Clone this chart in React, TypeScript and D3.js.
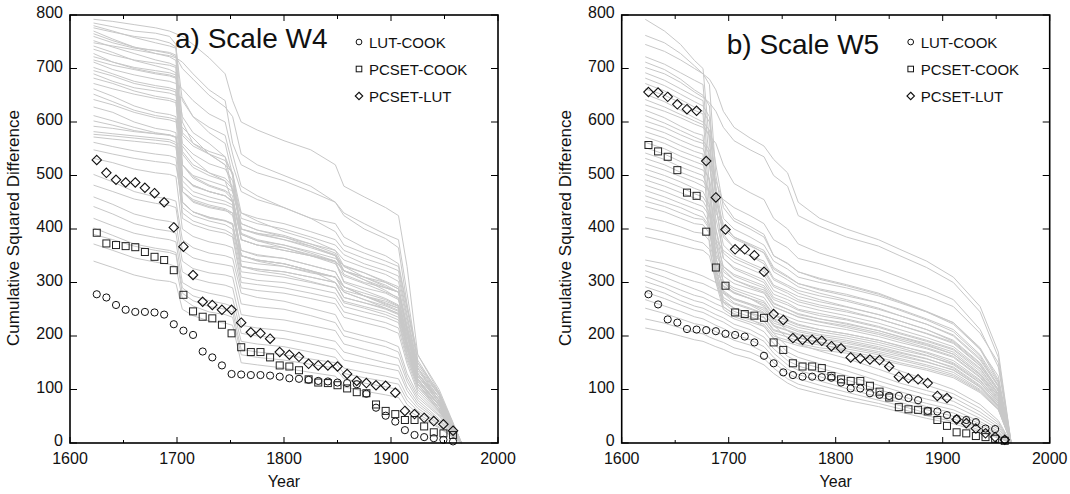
import React from 'react';
import * as d3 from 'd3';

// ---------- data ----------
const MARK_YEARS = [1625, 1634, 1643, 1652, 1661, 1670, 1679, 1688, 1697, 1706, 1715, 1724, 1733, 1742, 1751, 1760, 1769, 1778, 1787, 1796, 1805, 1814, 1823, 1832, 1841, 1850, 1859, 1868, 1877, 1886, 1895, 1904, 1913, 1922, 1931, 1940, 1949, 1958];

const A_LUT_COOK = [278, 272, 258, 249, 245, 245, 244, 240, 222, 210, 202, 171, 160, 145, 129, 128, 127, 127, 126, 124, 121, 120, 118, 116, 115, 113, 112, 110, 92, 66, 51, 40, 24, 15, 11, 9, 6, 3];
const A_PCSET_COOK = [393, 373, 370, 368, 366, 357, 348, 342, 323, 277, 246, 236, 233, 221, 205, 179, 170, 170, 160, 145, 143, 136, 119, 113, 112, 108, 102, 95, 93, 72, 60, 54, 43, 43, 31, 20, 18, 15];
const A_PCSET_LUT = [529, 505, 492, 487, 487, 477, 467, 450, 403, 367, 314, 264, 258, 249, 249, 225, 207, 205, 195, 170, 165, 161, 148, 145, 145, 143, 129, 116, 112, 108, 107, 94, 60, 54, 47, 41, 35, 23];

const B_LUT_COOK = [278, 259, 231, 225, 213, 212, 211, 209, 204, 202, 199, 188, 163, 149, 132, 127, 124, 124, 123, 122, 113, 102, 102, 93, 90, 88, 88, 84, 80, 60, 59, 52, 45, 43, 39, 27, 26, 6];
const B_PCSET_COOK = [557, 545, 535, 510, 468, 462, 395, 328, 294, 244, 241, 238, 234, 188, 174, 149, 143, 143, 140, 125, 119, 116, 116, 107, 96, 85, 67, 63, 62, 59, 43, 32, 20, 18, 13, 11, 8, 4];
const B_PCSET_LUT = [656, 655, 647, 633, 624, 621, 527, 459, 399, 362, 362, 351, 320, 241, 230, 196, 193, 193, 191, 181, 177, 160, 158, 156, 155, 143, 124, 121, 119, 112, 88, 84, 44, 37, 27, 18, 11, 6];

// grey ensemble curves, values at the knot years
const A_KNOTS = [1622, 1640, 1660, 1680, 1693, 1699, 1705, 1715, 1730, 1745, 1752, 1760, 1775, 1800, 1825, 1848, 1856, 1875, 1895, 1907, 1915, 1925, 1945, 1966];
const A_LINES = [
  [792, 788, 782, 776, 770, 765, 760, 745, 720, 690, 640, 600, 585, 565, 548, 520, 480, 460, 440, 425, 330, 165, 95, 0],
  [785, 778, 770, 766, 760, 745, 600, 560, 540, 520, 505, 430, 415, 395, 380, 360, 330, 318, 300, 288, 220, 140, 78, 0],
  [780, 770, 758, 748, 742, 738, 640, 610, 590, 575, 520, 470, 455, 440, 420, 395, 370, 355, 340, 330, 250, 155, 92, 0],
  [776, 768, 760, 755, 748, 740, 520, 500, 490, 480, 470, 410, 398, 388, 372, 355, 322, 305, 285, 270, 190, 120, 70, 0],
  [770, 755, 740, 733, 728, 722, 700, 680, 650, 628, 610, 540, 520, 500, 480, 450, 430, 410, 390, 380, 280, 150, 90, 0],
  [765, 752, 740, 728, 722, 715, 580, 560, 545, 535, 500, 380, 370, 360, 350, 338, 300, 285, 270, 258, 200, 125, 75, 0],
  [760, 748, 738, 734, 730, 725, 545, 520, 505, 495, 480, 400, 392, 380, 368, 350, 315, 300, 290, 282, 210, 130, 80, 0],
  [752, 740, 728, 716, 710, 705, 500, 480, 470, 462, 450, 350, 342, 335, 322, 300, 282, 268, 252, 242, 180, 115, 65, 0],
  [748, 742, 735, 728, 724, 720, 712, 690, 660, 640, 560, 520, 505, 490, 470, 450, 425, 400, 382, 365, 260, 150, 95, 0],
  [742, 730, 715, 705, 698, 692, 560, 540, 522, 512, 490, 392, 380, 370, 358, 345, 332, 318, 302, 292, 215, 135, 85, 0],
  [736, 725, 716, 710, 706, 702, 470, 455, 445, 438, 430, 360, 352, 345, 332, 320, 292, 275, 258, 248, 175, 110, 60, 0],
  [728, 712, 700, 692, 688, 684, 610, 580, 560, 535, 470, 430, 420, 410, 395, 380, 360, 345, 332, 322, 240, 145, 90, 0],
  [722, 712, 702, 696, 692, 688, 575, 555, 540, 528, 505, 400, 390, 380, 365, 350, 322, 310, 300, 288, 212, 130, 85, 0],
  [716, 706, 698, 690, 686, 682, 500, 482, 470, 462, 452, 330, 325, 320, 310, 300, 272, 262, 252, 242, 180, 110, 65, 0],
  [712, 698, 688, 680, 676, 672, 662, 640, 615, 600, 540, 480, 462, 440, 420, 410, 385, 365, 350, 335, 255, 165, 100, 0],
  [702, 690, 676, 668, 664, 660, 450, 432, 422, 415, 408, 340, 335, 330, 320, 310, 282, 268, 256, 246, 182, 115, 70, 0],
  [696, 686, 672, 664, 660, 656, 520, 498, 482, 472, 462, 380, 370, 360, 350, 340, 302, 290, 280, 268, 200, 125, 80, 0],
  [690, 676, 664, 658, 654, 650, 645, 610, 580, 560, 500, 420, 410, 400, 385, 370, 352, 335, 322, 312, 235, 140, 90, 0],
  [682, 672, 658, 648, 644, 640, 490, 470, 460, 452, 445, 350, 342, 335, 322, 310, 292, 275, 262, 252, 188, 120, 70, 0],
  [672, 662, 652, 644, 640, 636, 540, 515, 500, 490, 475, 400, 392, 385, 372, 360, 342, 328, 315, 302, 228, 140, 85, 0],
  [662, 648, 630, 618, 614, 610, 520, 495, 480, 470, 455, 390, 378, 370, 355, 340, 322, 305, 290, 282, 210, 130, 80, 0],
  [652, 638, 622, 612, 608, 605, 470, 452, 442, 436, 425, 350, 342, 335, 322, 310, 292, 275, 260, 252, 185, 115, 70, 0],
  [642, 632, 618, 608, 604, 600, 590, 570, 540, 520, 470, 410, 398, 385, 368, 352, 330, 310, 292, 282, 210, 130, 75, 0],
  [628, 618, 600, 588, 584, 580, 450, 432, 422, 416, 410, 330, 325, 320, 310, 300, 272, 262, 250, 240, 175, 110, 65, 0],
  [612, 602, 590, 580, 576, 572, 480, 462, 452, 446, 440, 360, 350, 345, 332, 320, 292, 280, 268, 256, 190, 120, 72, 0],
  [602, 594, 584, 578, 575, 571, 500, 482, 470, 462, 452, 380, 370, 365, 352, 340, 322, 310, 295, 282, 210, 130, 80, 0],
  [592, 588, 582, 578, 576, 572, 440, 425, 415, 408, 400, 320, 316, 310, 300, 290, 262, 252, 240, 230, 165, 105, 62, 0],
  [582, 578, 574, 570, 567, 562, 555, 530, 505, 490, 450, 390, 378, 365, 350, 335, 312, 298, 282, 272, 200, 125, 75, 0],
  [577, 574, 570, 566, 563, 558, 420, 408, 398, 392, 385, 300, 296, 290, 280, 270, 245, 235, 225, 215, 155, 100, 58, 0],
  [572, 568, 564, 560, 557, 553, 470, 450, 440, 434, 430, 350, 340, 330, 318, 310, 285, 275, 265, 255, 185, 118, 70, 0],
  [562, 554, 546, 540, 537, 533, 430, 415, 405, 398, 390, 310, 304, 300, 290, 280, 255, 245, 235, 225, 160, 105, 60, 0],
  [548, 540, 532, 526, 523, 519, 450, 432, 420, 415, 410, 330, 322, 315, 302, 290, 265, 255, 245, 235, 168, 110, 65, 0],
  [532, 524, 512, 505, 502, 498, 400, 386, 376, 370, 365, 290, 285, 280, 270, 260, 235, 225, 215, 205, 148, 95, 55, 0],
  [502, 488, 470, 460, 456, 452, 380, 365, 355, 350, 345, 280, 272, 265, 252, 240, 210, 200, 190, 180, 130, 90, 52, 0],
  [482, 470, 456, 448, 444, 440, 360, 346, 338, 333, 330, 260, 255, 250, 238, 225, 200, 190, 180, 170, 122, 85, 50, 0],
  [460, 446, 428, 418, 414, 410, 340, 326, 318, 314, 310, 240, 235, 230, 220, 210, 185, 175, 165, 158, 115, 80, 45, 0],
  [442, 428, 410, 400, 396, 392, 320, 308, 300, 295, 290, 220, 215, 210, 200, 190, 170, 160, 150, 145, 105, 75, 42, 0],
  [420, 406, 392, 384, 380, 376, 300, 288, 280, 274, 270, 205, 200, 195, 185, 175, 155, 148, 140, 135, 98, 70, 40, 0],
  [402, 388, 372, 364, 360, 356, 290, 275, 266, 260, 255, 190, 185, 180, 170, 160, 140, 132, 125, 120, 88, 65, 36, 0],
  [390, 380, 368, 360, 356, 352, 280, 266, 255, 250, 245, 175, 170, 165, 157, 150, 130, 122, 115, 110, 80, 60, 34, 0],
  [372, 360, 346, 338, 334, 330, 270, 256, 245, 240, 235, 165, 160, 155, 147, 140, 120, 112, 105, 100, 72, 55, 30, 0],
  [340, 328, 314, 305, 302, 298, 250, 238, 228, 224, 220, 150, 146, 140, 132, 125, 105, 97, 90, 85, 62, 50, 28, 0],
];

const B_KNOTS = [1622, 1640, 1655, 1668, 1676, 1682, 1688, 1695, 1705, 1720, 1733, 1742, 1755, 1765, 1785, 1810, 1840, 1860, 1885, 1910, 1935, 1952, 1964];
const B_LINES = [
  [792, 770, 745, 715, 700, 560, 470, 455, 440, 425, 410, 380, 365, 345, 335, 320, 305, 290, 275, 255, 205, 150, 0],
  [762, 748, 728, 705, 690, 670, 500, 420, 400, 385, 370, 340, 325, 310, 300, 290, 275, 262, 245, 225, 175, 125, 0],
  [745, 732, 716, 700, 690, 680, 660, 620, 590, 570, 555, 530, 505, 450, 420, 400, 380, 362, 340, 310, 255, 170, 0],
  [722, 708, 692, 678, 670, 520, 430, 405, 385, 370, 355, 320, 305, 292, 280, 268, 252, 238, 222, 200, 155, 105, 0],
  [712, 698, 680, 660, 650, 630, 470, 390, 365, 350, 335, 305, 292, 280, 268, 255, 240, 228, 212, 190, 148, 100, 0],
  [702, 690, 674, 656, 646, 636, 620, 590, 565, 548, 535, 500, 480, 425, 405, 385, 368, 350, 328, 300, 245, 160, 0],
  [692, 678, 662, 648, 640, 480, 380, 360, 345, 332, 320, 292, 280, 268, 258, 248, 232, 220, 205, 188, 145, 98, 0],
  [682, 668, 652, 638, 630, 610, 450, 345, 325, 312, 300, 272, 262, 250, 242, 232, 218, 206, 192, 176, 138, 92, 0],
  [672, 658, 642, 628, 620, 600, 520, 440, 415, 400, 385, 350, 335, 320, 308, 296, 280, 265, 246, 225, 178, 118, 0],
  [662, 650, 636, 622, 615, 440, 350, 330, 312, 300, 290, 262, 250, 240, 232, 222, 210, 198, 184, 166, 128, 88, 0],
  [652, 638, 622, 608, 600, 585, 480, 400, 382, 368, 356, 325, 310, 298, 288, 278, 262, 250, 232, 212, 165, 112, 0],
  [642, 628, 614, 602, 595, 575, 400, 325, 305, 292, 282, 255, 244, 235, 226, 216, 203, 192, 178, 162, 124, 82, 0],
  [632, 620, 608, 596, 590, 575, 560, 520, 485, 468, 455, 420, 400, 372, 355, 340, 325, 310, 290, 268, 212, 142, 0],
  [622, 608, 592, 580, 575, 400, 320, 300, 286, 275, 265, 240, 230, 222, 212, 204, 192, 182, 168, 150, 116, 78, 0],
  [612, 598, 584, 572, 565, 548, 460, 385, 365, 350, 340, 308, 295, 285, 275, 265, 250, 238, 222, 202, 158, 108, 0],
  [602, 590, 576, 565, 560, 540, 380, 300, 280, 270, 258, 232, 224, 216, 208, 200, 188, 178, 164, 146, 112, 74, 0],
  [592, 580, 566, 555, 550, 520, 440, 370, 350, 336, 325, 295, 284, 274, 264, 254, 240, 228, 212, 192, 150, 100, 0],
  [582, 570, 556, 545, 540, 370, 300, 285, 270, 260, 248, 224, 216, 208, 200, 192, 180, 170, 158, 140, 106, 70, 0],
  [572, 560, 546, 536, 530, 520, 490, 450, 420, 405, 390, 350, 336, 320, 306, 294, 278, 264, 245, 222, 175, 114, 0],
  [562, 550, 536, 526, 520, 490, 350, 280, 262, 252, 242, 218, 210, 202, 194, 186, 175, 165, 152, 136, 104, 68, 0],
  [552, 540, 526, 516, 510, 495, 420, 355, 338, 325, 314, 285, 274, 264, 254, 245, 232, 220, 204, 186, 144, 96, 0],
  [542, 530, 516, 506, 500, 470, 330, 268, 252, 243, 234, 210, 203, 196, 188, 180, 168, 158, 146, 132, 100, 66, 0],
  [532, 520, 506, 496, 490, 470, 400, 345, 328, 316, 305, 278, 268, 258, 248, 238, 224, 212, 197, 180, 140, 92, 0],
  [522, 510, 498, 488, 480, 470, 450, 410, 385, 372, 360, 328, 312, 298, 286, 275, 262, 248, 230, 208, 162, 106, 0],
  [512, 500, 488, 476, 470, 445, 320, 262, 246, 236, 228, 206, 198, 191, 183, 176, 165, 155, 143, 128, 98, 64, 0],
  [502, 490, 478, 466, 460, 440, 380, 330, 315, 304, 294, 268, 258, 248, 238, 230, 216, 204, 190, 174, 134, 90, 0],
  [492, 480, 468, 458, 452, 430, 310, 255, 240, 230, 222, 200, 192, 186, 178, 172, 160, 150, 139, 125, 96, 63, 0],
  [482, 470, 458, 448, 442, 425, 370, 320, 305, 294, 286, 260, 250, 242, 232, 224, 210, 199, 186, 170, 130, 87, 0],
  [472, 460, 448, 438, 432, 410, 300, 250, 236, 226, 218, 196, 188, 182, 174, 168, 156, 147, 136, 122, 94, 62, 0],
  [462, 450, 440, 428, 422, 405, 360, 312, 298, 288, 280, 254, 244, 236, 227, 219, 206, 195, 182, 166, 127, 84, 0],
  [452, 442, 430, 420, 418, 400, 345, 302, 290, 280, 272, 246, 236, 228, 220, 212, 199, 188, 176, 160, 122, 80, 0],
  [442, 432, 420, 410, 408, 392, 335, 292, 280, 270, 262, 238, 228, 220, 212, 204, 192, 181, 170, 154, 118, 77, 0],
  [422, 414, 404, 394, 392, 378, 322, 282, 270, 260, 252, 228, 219, 211, 203, 196, 184, 174, 163, 148, 113, 74, 0],
  [402, 394, 386, 378, 374, 362, 312, 272, 260, 250, 243, 220, 211, 204, 196, 189, 177, 168, 157, 142, 108, 71, 0],
  [386, 378, 370, 363, 360, 350, 302, 264, 252, 243, 236, 212, 204, 197, 189, 182, 171, 162, 151, 137, 104, 68, 0],
  [342, 335, 326, 318, 312, 306, 300, 294, 282, 270, 255, 232, 210, 198, 186, 172, 150, 135, 118, 100, 72, 42, 0],
  [332, 322, 310, 302, 298, 292, 286, 280, 268, 258, 244, 220, 196, 185, 172, 158, 138, 124, 108, 92, 65, 38, 0],
  [322, 310, 298, 288, 282, 276, 270, 264, 252, 242, 228, 205, 180, 170, 158, 145, 126, 112, 98, 85, 58, 34, 0],
  [312, 298, 286, 276, 272, 266, 260, 254, 242, 232, 218, 195, 170, 160, 148, 135, 116, 104, 90, 78, 52, 30, 0],
  [302, 290, 276, 266, 262, 256, 250, 244, 232, 222, 208, 186, 162, 152, 140, 126, 108, 96, 82, 70, 46, 26, 0],
  [292, 280, 266, 256, 252, 246, 240, 234, 222, 212, 198, 176, 154, 144, 132, 118, 100, 88, 74, 62, 40, 22, 0],
  [282, 270, 258, 248, 244, 238, 232, 226, 214, 204, 190, 168, 146, 136, 124, 110, 92, 82, 68, 56, 36, 19, 0],
  [268, 256, 246, 236, 232, 226, 220, 214, 203, 193, 180, 160, 138, 128, 116, 102, 86, 76, 62, 50, 32, 16, 0],
  [252, 242, 232, 223, 220, 214, 208, 202, 192, 183, 170, 150, 130, 120, 108, 95, 80, 70, 56, 45, 28, 13, 0],
  [232, 224, 215, 207, 204, 198, 193, 188, 178, 170, 158, 140, 120, 110, 99, 87, 74, 64, 51, 40, 24, 11, 0],
  [215, 208, 200, 193, 190, 185, 180, 175, 166, 158, 146, 130, 112, 102, 92, 80, 68, 58, 46, 36, 21, 9, 0],
];

const Y_TICKS = [0, 100, 200, 300, 400, 500, 600, 700, 800];
const X_TICKS = [1600, 1700, 1800, 1900, 2000];
const X_MINOR = [1650, 1750, 1850, 1950];
const SERIES_NAMES = ['LUT-COOK', 'PCSET-COOK', 'PCSET-LUT'];

const FONT = '"Liberation Sans", Arial, Helvetica, sans-serif';
const W = 428;
const H = 428;

function marker(kind: string, cx: number, cy: number, s: number, key: any, stroke = '#111') {
  if (kind === 'circle') {
    return <circle key={key} cx={cx} cy={cy} r={3.6 * s} fill="none" stroke={stroke} strokeWidth={1} />;
  }
  if (kind === 'square') {
    const h = 3.5 * s;
    return <rect key={key} x={cx - h} y={cy - h} width={2 * h} height={2 * h} fill="none" stroke={stroke} strokeWidth={1} />;
  }
  const d = 4.7 * s;
  return (
    <path key={key} d={`M${cx},${cy - d}L${cx + d},${cy}L${cx},${cy + d}L${cx - d},${cy}Z`} fill="none" stroke={stroke} strokeWidth={1.1} />
  );
}

function Panel(props: any) {
  const { left, top, title, titleY, knots, lines, circles, squares, diamonds } = props;
  const x = d3.scaleLinear().domain([1600, 2000]).range([0, W]);
  const y = d3.scaleLinear().domain([0, 800]).range([H, 0]);
  const line = d3.line<number>().x((_, i) => x(knots[i])).y((v) => y(v));
  const kinds = ['circle', 'square', 'diamond'];
  const series = [circles, squares, diamonds];
  return (
    <g transform={`translate(${left},${top})`} fontFamily={FONT}>
      <g>
        {lines.map((ln: number[], i: number) => (
          <path key={i} d={line(ln) || ''} fill="none" stroke="#c8c8c8" strokeWidth={1} />
        ))}
      </g>
      {series.map((vals: number[], si: number) => (
        <g key={si}>
          {vals.map((v, i) => marker(kinds[si], x(MARK_YEARS[i]), y(v), 1, i, si === 1 ? '#222' : '#111'))}
        </g>
      ))}
      <rect x={0} y={0} width={W} height={H} fill="none" stroke="#000" strokeWidth={1.6} />
      {X_TICKS.map((t) => (
        <g key={'xt' + t}>
          <line x1={x(t)} x2={x(t)} y1={H} y2={H - 6} stroke="#000" strokeWidth={1} />
          <line x1={x(t)} x2={x(t)} y1={0} y2={6} stroke="#000" strokeWidth={1} />
          <text x={x(t)} y={H + 21} fontSize={16} textAnchor="middle" fill="#111">{t}</text>
        </g>
      ))}
      {X_MINOR.map((t) => (
        <g key={'xm' + t}>
          <line x1={x(t)} x2={x(t)} y1={H} y2={H - 3} stroke="#000" strokeWidth={1} />
          <line x1={x(t)} x2={x(t)} y1={0} y2={4} stroke="#000" strokeWidth={1} />
        </g>
      ))}
      {Y_TICKS.map((t) => (
        <g key={'yt' + t}>
          <line x1={0} x2={7} y1={y(t)} y2={y(t)} stroke="#000" strokeWidth={1} />
          <line x1={W} x2={W - 7} y1={y(t)} y2={y(t)} stroke="#000" strokeWidth={1} />
          <text x={-7} y={y(t) + 3} fontSize={16} textAnchor="end" fill="#111">{t}</text>
        </g>
      ))}
      <text x={W / 2} y={H + 44} fontSize={16} textAnchor="middle" fill="#111">Year</text>
      <text transform={`translate(${-51},${H / 2 - 1}) rotate(-90)`} fontSize={17} textAnchor="middle" fill="#111">
        Cumulative Squared Difference
      </text>
      <text x={105} y={titleY} fontSize={28} fill="#111">{title}</text>
      {SERIES_NAMES.map((nm, i) => {
        const ly = 27 + i * 27;
        return (
          <g key={nm}>
            {marker(kinds[i], 289, ly, 0.8, 'lg' + i, '#111')}
            <text x={299} y={ly + 5.5} fontSize={15} fill="#111">{nm}</text>
          </g>
        );
      })}
    </g>
  );
}

export default function App() {
  return (
    <svg width={1070} height={494} style={{ position: 'absolute', left: 0, top: 0, background: '#fff' }}>
      <rect width={1070} height={494} fill="#fff" />
      <Panel left={70} top={15} title="a) Scale W4" titleY={33} knots={A_KNOTS} lines={A_LINES}
        circles={A_LUT_COOK} squares={A_PCSET_COOK} diamonds={A_PCSET_LUT} />
      <Panel left={621.7} top={15} title="b) Scale W5" titleY={39} knots={B_KNOTS} lines={B_LINES}
        circles={B_LUT_COOK} squares={B_PCSET_COOK} diamonds={B_PCSET_LUT} />
    </svg>
  );
}
